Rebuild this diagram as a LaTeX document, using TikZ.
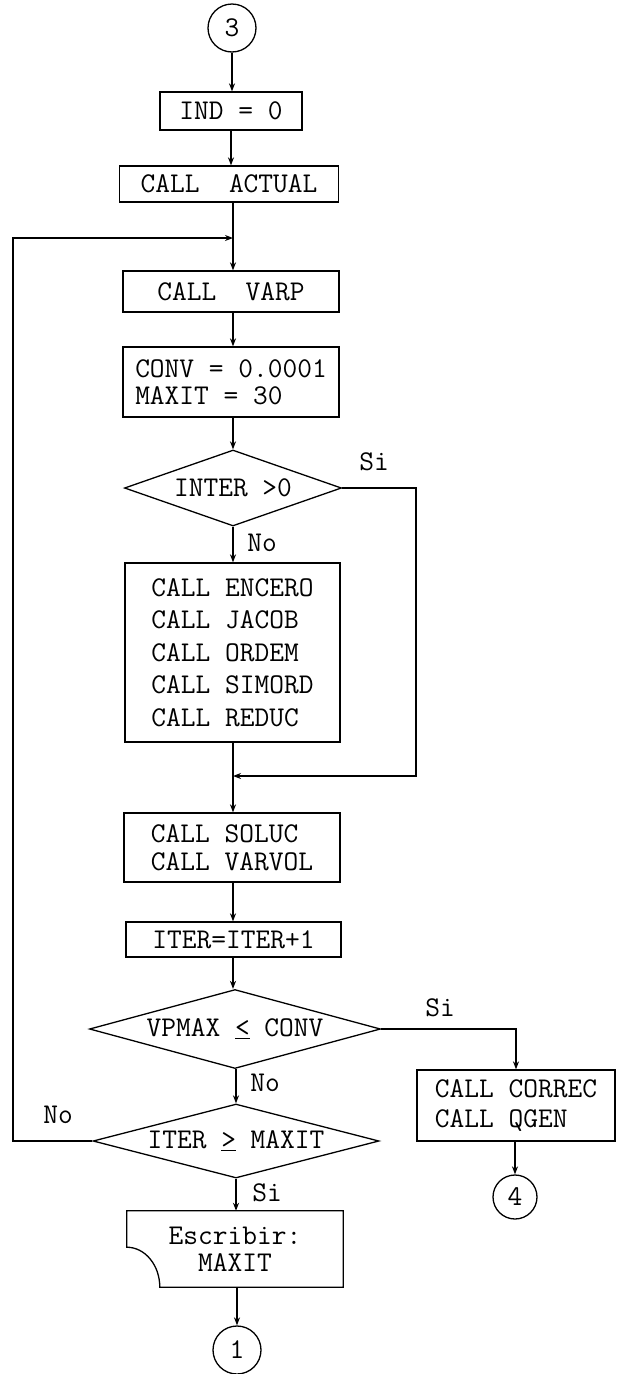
\documentclass[tikz,border=0pt]{standalone}
\usepackage{fontspec}
\usetikzlibrary{shapes.geometric,arrows.meta}
\newcommand{\ttf}[1]{\fontsize{28.6}{#1}\selectfont\ttfamily}
\begin{document}
\begin{tikzpicture}[x=1pt,y=-1pt,
  every node/.style={font=\ttf{27}},
  box/.style={draw, line width=1.3pt, inner sep=0pt, align=left},
  dia/.style={draw, line width=1.3pt, diamond, inner sep=0pt},
  conn/.style={circle, draw, line width=1.3pt, minimum size=48pt, inner sep=0pt},
  flow/.style={line width=1.3pt, -{Stealth[length=8pt,width=6pt]}},
  seg/.style={line width=1.3pt},
  lbl/.style={inner sep=0pt}
]
\fill[white] (0,0) rectangle (629,1374);
\useasboundingbox (0,0) rectangle (629,1374);
\coordinate (colA) at (233,0);

\node[conn] (c3) at (232,28) {3};
\node[box, minimum width=142pt, minimum height=38pt] (ind) at (231,111) {IND = 0};
\node[box, minimum width=219pt, minimum height=36pt] (act) at (229,184) {CALL~~ACTUAL};
\node[box, minimum width=216pt, minimum height=41pt] (varp) at (231,291.5) {CALL~~VARP};
\node[box, minimum width=216pt, minimum height=70pt] (conv) at (231,382) {CONV = 0.0001\\MAXIT = 30};
\node[dia, minimum width=217pt, minimum height=76pt, aspect=2.86] (inter) at (233,488) {INTER >0};
\node[box, minimum width=215pt, minimum height=179pt, font=\ttf{32.5}] (calls) at (232.5,652.5) {CALL ENCERO\\CALL JACOB\\CALL ORDEM\\CALL SIMORD\\CALL REDUC};
\node[box, minimum width=216pt, minimum height=69pt, font=\ttf{28}] (sol) at (232,847.5) {CALL SOLUC\\CALL VARVOL};
\node[box, minimum width=215pt, minimum height=35pt] (iter) at (233.5,939.5) {ITER=ITER+1};
\node[dia, minimum width=291pt, minimum height=79pt, aspect=3.68] (vp) at (235,1029) {VPMAX \underline{<} CONV};
\node[dia, minimum width=286pt, minimum height=74pt, aspect=3.86] (mx) at (236,1141) {ITER \underline{>} MAXIT};
\node[minimum width=216pt, minimum height=76pt, inner sep=0pt, align=center] (esc) at (235,1249) {Escribir:\\MAXIT};
\draw[seg] (esc.north west) -- (esc.north east) -- (esc.south east) -- ([xshift=33pt]esc.south west)
  arc[start angle=0, end angle=90, x radius=33pt, y radius=40pt] -- cycle;
\node[conn] (c1) at (237,1350) {1};
\node[box, minimum width=198pt, minimum height=71pt, font=\ttf{30}] (cor) at (516,1105.5) {CALL CORREC\\CALL QGEN};
\node[conn, minimum size=44pt] (c4) at (515,1197) {4};

\coordinate (lp) at (13,238);
\coordinate (rb) at (416,776);

\draw[flow] (c3) -- (c3 |- ind.north);
\draw[flow] (ind) -- (ind |- act.north);
\draw[flow] (colA |- act.south) -- (colA |- varp.north);
\draw[flow] (colA |- varp.south) -- (colA |- conv.north);
\draw[flow] (colA |- conv.south) -- (inter.north);
\draw[flow] (inter.south) -- (inter.south |- calls.north);
\draw[flow] (colA |- calls.south) -- (colA |- sol.north);
\draw[flow] (colA |- sol.south) -- (colA |- iter.north);
\draw[flow] (colA |- iter.south) -- (colA |- vp.north);
\draw[flow] (mx |- vp.south) -- (mx.north);
\draw[flow] (mx.south) -- (mx.south |- esc.north);
\draw[flow] (c1 |- esc.south) -- (c1.north);
\draw[flow] (inter.east) -- (inter.east -| rb) -- (rb) -- (rb -| colA);
\draw[flow] (mx.west) -- (mx.west -| lp) -- (lp) -- (lp -| colA);
\draw[flow] (vp.east) -- (vp.east -| cor) -- (cor.north);
\draw[flow] (c4 |- cor.south) -- (c4.north);

\node[lbl] (si1) at (374,462) {Si};
\node[lbl] (no1) at (262,543) {No};
\node[lbl] (si2) at (440,1008) {Si};
\node[lbl] (no2) at (265,1083) {No};
\node[lbl] (no3) at (58,1115) {No};
\node[lbl] (si3) at (267,1193) {Si};
\end{tikzpicture}
\end{document}
